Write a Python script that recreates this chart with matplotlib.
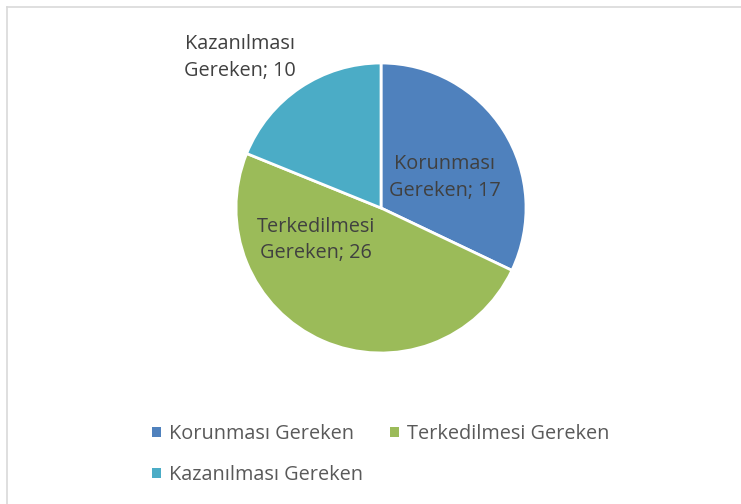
import matplotlib.pyplot as plt
from matplotlib.patches import Patch
from matplotlib.lines import Line2D

categories = ["Korunması Gereken", "Terkedilmesi Gereken", "Kazanılması Gereken"]
values = [17, 26, 10]
colors = ["#4F81BD", "#9BBB59", "#4BACC6"]
# label anchor points, in units of the pie radius
label_pos = [(0.44, 0.21), (-0.45, -0.22), (-0.97, 1.04)]

plt.rcParams["font.family"] = ["Open Sans", "DejaVu Sans"]

fig = plt.figure(figsize=(7.41, 5.04), dpi=100)
ax = fig.add_axes([0.3185, 0.2996, 0.3914, 0.5754])

wedges, _ = ax.pie(values, colors=colors, startangle=90, counterclock=False,
                   radius=1, wedgeprops=dict(edgecolor="white", linewidth=2))
ax.set_xlim(-1, 1)
ax.set_ylim(-1, 1)
ax.set_aspect("equal")
ax.axis("off")

for name, v, (x, y) in zip(categories, values, label_pos):
    first, second = name.split(" ")
    ax.text(x, y, f"{first}\n{second}; {v}", ha="center", va="center",
            fontsize=14.3, color="#404040", linespacing=1.45, clip_on=False)

# legend: reorder so rows read Korunması, Terkedilmesi / Kazanılması
order = [0, 2, 1]
handles = [Patch(facecolor=colors[i], edgecolor="none") for i in order]
fig.legend(handles, [categories[i] for i in order], ncol=2,
           loc="upper left", bbox_to_anchor=(0.192, 0.178),
           frameon=False, fontsize=14.3, labelcolor="#595959",
           handlelength=0.45, handleheight=0.45, handletextpad=0.4,
           columnspacing=1.35, labelspacing=1.05, borderpad=0)

# thin frame lines along the top and left edges
fig.add_artist(Line2D([7 / 741, 1], [1 - 7 / 504] * 2, color="#D9D9D9", lw=1.2))
fig.add_artist(Line2D([7 / 741] * 2, [0, 1 - 7 / 504], color="#D9D9D9", lw=1.2))

fig.savefig("out.png", dpi=100)
